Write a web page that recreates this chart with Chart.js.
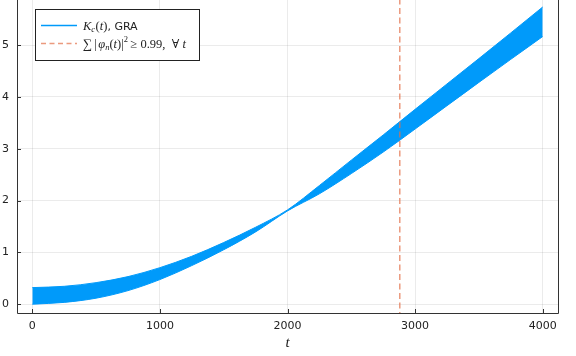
<!DOCTYPE html>
<html><head><meta charset="utf-8">
<script src="https://cdn.jsdelivr.net/npm/chart.js@4/dist/chart.umd.min.js"></script>
<style>html,body{margin:0;padding:0;background:#fff}#wrap{width:576px;height:356px}</style>
</head><body><div id="wrap"><canvas id="c" width="576" height="356"></canvas></div>
<script>
// ---- data (envelope of the fast-oscillating K_c(t)) ----
const times  = [0, 250, 500, 750, 1000, 1250, 1500, 1750, 2000, 2250, 2500, 2750, 3000, 3250, 3500, 3750, 4000];
const upperK = [0.32, 0.345, 0.416, 0.532, 0.705, 0.925, 1.19, 1.485, 1.82, 2.29, 2.78, 3.265, 3.76, 4.25, 4.74, 5.235, 5.735];
const lowerK = [0.00, 0.035, 0.116, 0.262, 0.475, 0.745, 1.05, 1.395, 1.80, 2.13, 2.52, 2.935, 3.38, 3.83, 4.28, 4.725, 5.165];
const thresholdT = 2880;
const xTicks = [0, 1000, 2000, 3000, 4000];
const yTicks = [0, 1, 2, 3, 4, 5];

const BLUE = 'rgb(0,154,250)';
const ORANGE = 'rgba(227,111,71,0.7)';
const SANS = '"DejaVu Sans", sans-serif';
const SERIF = '"Liberation Serif", "DejaVu Serif", serif';

const frameTicks = {
  id: 'frameTicks',
  afterDatasetsDraw(chart) {
    const {ctx, chartArea: a, scales: {x, y}} = chart;
    ctx.save();
    ctx.strokeStyle = '#333';
    ctx.lineWidth = 1;
    ctx.beginPath();
    ctx.moveTo(a.left + 0.5, a.top - 1);
    ctx.lineTo(a.left + 0.5, a.bottom + 0.5);
    ctx.lineTo(a.right + 0.5, a.bottom + 0.5);
    ctx.lineTo(a.right + 0.5, a.top - 1);
    for (const v of xTicks) {
      const px = Math.round(x.getPixelForValue(v)) + 0.5;
      ctx.moveTo(px, a.bottom);
      ctx.lineTo(px, a.bottom - 4);
    }
    for (const v of yTicks) {
      const py = Math.round(y.getPixelForValue(v)) + 0.5;
      ctx.moveTo(a.left, py);
      ctx.lineTo(a.left + 4, py);
    }
    ctx.stroke();
    ctx.restore();
  }
};

function drawRuns(ctx, x, y, runs) {
  let cx = x;
  for (const r of runs) {
    ctx.font = r.f;
    ctx.fillText(r.t, cx, y + (r.dy || 0));
    cx += ctx.measureText(r.t).width + (r.sp || 0);
  }
  return cx;
}

const legendBox = {
  id: 'legendBox',
  afterDraw(chart) {
    const ctx = chart.ctx;
    ctx.save();
    ctx.fillStyle = '#fff';
    ctx.fillRect(35, 9, 164, 51);
    ctx.strokeStyle = '#222';
    ctx.lineWidth = 1;
    ctx.strokeRect(35.5, 9.5, 164, 51);
    ctx.strokeStyle = BLUE; ctx.lineWidth = 1.5;
    ctx.beginPath(); ctx.moveTo(41, 25.5); ctx.lineTo(77, 25.5); ctx.stroke();
    ctx.strokeStyle = ORANGE; ctx.lineWidth = 1.5; ctx.setLineDash([5, 3.5]);
    ctx.beginPath(); ctx.moveTo(41, 43.5); ctx.lineTo(77, 43.5); ctx.stroke();
    ctx.setLineDash([]);
    ctx.fillStyle = '#222';
    ctx.textBaseline = 'alphabetic';
    const it = 'italic 12.5px ' + SERIF, rm = '12.5px ' + SERIF, sub = 'italic 8.5px ' + SERIF;
    drawRuns(ctx, 83, 29.5, [
      {t: 'K', f: it}, {t: 'c', f: sub, dy: 2, sp: 0.5}, {t: '(', f: rm}, {t: 't', f: it}, {t: ')', f: rm},
      {t: ', GRA', f: '11px ' + SANS}
    ]);
    drawRuns(ctx, 83, 47.5, [
      {t: '\u2211', f: '13px ' + SERIF, sp: 2}, {t: '|', f: rm, sp: 1.5}, {t: '\u03C6', f: it},
      {t: 'n', f: sub, dy: 2.5}, {t: '(', f: rm}, {t: 't', f: it}, {t: ')|', f: rm},
      {t: '2', f: '8.5px ' + SERIF, dy: -5.5, sp: 2.5}, {t: '\u2265 0.99,  \u2200 ', f: rm}, {t: 't', f: it}
    ]);
    ctx.restore();
  }
};

const noPad = s => { s.paddingTop = 0; s.paddingBottom = 0; s.paddingLeft = 0; s.paddingRight = 0; };

new Chart(document.getElementById('c'), {
  type: 'line',
  data: {
    datasets: [
      {
        label: 'upper',
        data: times.map((t, i) => ({x: t, y: upperK[i]})),
        borderColor: BLUE, backgroundColor: BLUE, borderWidth: 1,
        pointRadius: 0, cubicInterpolationMode: 'monotone', fill: '+1', order: 2
      },
      {
        label: 'lower',
        data: times.map((t, i) => ({x: t, y: lowerK[i]})),
        borderColor: BLUE, backgroundColor: BLUE, borderWidth: 1,
        pointRadius: 0, cubicInterpolationMode: 'monotone', fill: false, order: 2
      },
      {
        label: 'threshold',
        data: [{x: thresholdT, y: -1}, {x: thresholdT, y: 7}],
        borderColor: ORANGE, borderWidth: 1.5, borderDash: [6, 3.5],
        pointRadius: 0, fill: false, order: 1
      }
    ]
  },
  options: {
    responsive: false,
    animation: false,
    devicePixelRatio: 1,
    layout: {padding: {left: 0, right: 18, top: 0, bottom: 0}},
    plugins: {legend: {display: false}, tooltip: {enabled: false}},
    scales: {
      x: {
        type: 'linear', min: -120, max: 4120,
        afterBuildTicks: s => { s.ticks = xTicks.map(v => ({value: v})); },
        afterFit: s => { s.height = 43; noPad(s); },
        grid: {color: 'rgba(0,0,0,0.08)', lineWidth: 1, drawTicks: false},
        border: {display: false},
        ticks: {padding: 7, color: '#222', font: {family: SANS, size: 11}, maxRotation: 0, callback: v => String(v)},
        title: {display: true, text: 't', color: '#222', font: {family: SERIF, size: 15, style: 'italic'}, padding: {top: 0, bottom: 4}}
      },
      y: {
        type: 'linear', min: -0.17, max: 5.87,
        afterBuildTicks: s => { s.ticks = yTicks.map(v => ({value: v})); },
        afterFit: s => { s.width = 17; noPad(s); },
        grid: {color: 'rgba(0,0,0,0.08)', lineWidth: 1, drawTicks: false},
        border: {display: false},
        ticks: {padding: 8, color: '#222', font: {family: SANS, size: 11}, callback: v => String(v)}
      }
    }
  },
  plugins: [frameTicks, legendBox]
});
</script>
</body></html>
